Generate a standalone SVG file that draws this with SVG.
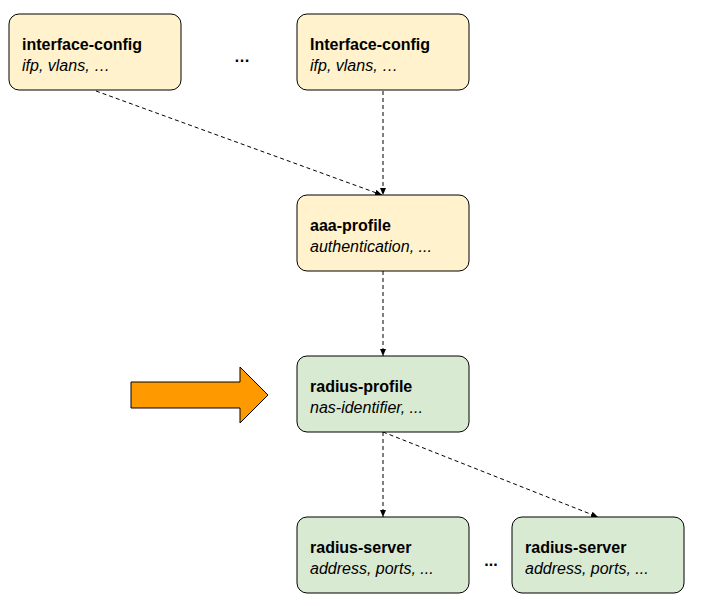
<svg xmlns="http://www.w3.org/2000/svg" width="701" height="606" viewBox="0 0 701 606">
<defs>
<style>
.y{fill:#fff2cc;stroke:#000;stroke-width:1}
.g{fill:#d9ead3;stroke:#000;stroke-width:1}
.t{font-family:Arial,"Liberation Sans",sans-serif;font-size:16px;font-weight:bold;fill:#000}
.s{font-family:Arial,"Liberation Sans",sans-serif;font-size:16px;font-style:italic;fill:#000}
.c{stroke:#000;stroke-width:1;stroke-dasharray:4,3;fill:none;marker-end:url(#a)}
</style>
<marker id="a" markerWidth="8" markerHeight="8" refX="7" refY="4" orient="auto" markerUnits="userSpaceOnUse"><path d="M0,1 L7,4 L0,7 Z" fill="#000"/></marker>
</defs>
<g id="connectors">
<line class="c" x1="96" y1="91" x2="382" y2="195"/>
<line class="c" x1="383" y1="91" x2="383" y2="195"/>
<line class="c" x1="383" y1="271" x2="383" y2="356"/>
<line class="c" x1="383" y1="432" x2="383" y2="517"/>
<line class="c" x1="383" y1="432" x2="598" y2="517"/>
</g>
<g id="n1"><rect class="y" x="9" y="14" width="172" height="76" rx="10"/><text class="t" x="22" y="50">interface-config</text><text class="s" x="22" y="71">ifp, vlans, …</text></g>
<g id="n2"><rect class="y" x="297" y="14" width="172" height="76" rx="10"/><text class="t" x="310" y="50">Interface-config</text><text class="s" x="310" y="71">ifp, vlans, …</text></g>
<g id="n3"><rect class="y" x="297" y="195" width="172" height="76" rx="10"/><text class="t" x="310" y="231">aaa-profile</text><text class="s" x="310" y="252">authentication, ...</text></g>
<g id="n4"><rect class="g" x="297" y="356" width="172" height="76" rx="10"/><text class="t" x="310" y="392">radius-profile</text><text class="s" x="310" y="413">nas-identifier, ...</text></g>
<g id="n5"><rect class="g" x="297" y="517" width="172" height="76" rx="10"/><text class="t" x="310" y="553">radius-server</text><text class="s" x="310" y="574">address, ports, ...</text></g>
<g id="n6"><rect class="g" x="512" y="517" width="172" height="76" rx="10"/><text class="t" x="525" y="553">radius-server</text><text class="s" x="525" y="574">address, ports, ...</text></g>
<text class="t" x="242" y="62" text-anchor="middle" font-size="22">…</text>
<text class="t" x="491" y="566" text-anchor="middle" font-size="22">...</text>
<path d="M131,382 L240,382 L240,367 L268,395 L240,423 L240,408 L131,408 Z" fill="#ff9900" stroke="#000" stroke-width="1"/>
</svg>
